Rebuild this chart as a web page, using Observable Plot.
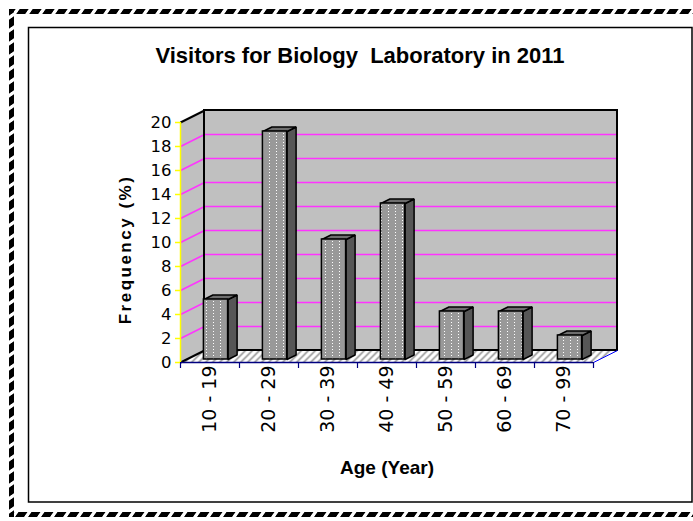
<!DOCTYPE html>
<html>
<head>
<meta charset="utf-8">
<script src="https://cdn.jsdelivr.net/npm/d3@7"></script>
<script src="https://cdn.jsdelivr.net/npm/@observablehq/plot@0.6"></script>
<style>
  body { margin: 0; background: #fff; }
  #chart svg { display: block; }
  g[aria-description="title"] text { white-space: pre; }
  g[aria-description="ytitle"] text { letter-spacing: 2.5px; }
</style>
</head>
<body>
<svg width="0" height="0" style="position:absolute">
  <defs>
    <pattern id="hatch" patternUnits="userSpaceOnUse" width="7" height="7">
      <rect width="7" height="7" fill="#ffffff"/>
      <path d="M-1,1 l2,-2 M0,7 l7,-7 M6,8 l2,-2" stroke="#8a8a8a" stroke-width="1.5"/>
    </pattern>
    <pattern id="dots" patternUnits="userSpaceOnUse" width="7" height="3">
      <rect width="7" height="3" fill="#999999"/>
      <rect x="3" y="1" width="1" height="1" fill="#ffffff"/>
    </pattern>
    <pattern id="dashH" patternUnits="userSpaceOnUse" width="13" height="20" patternTransform="skewX(-35)">
      <rect width="13" height="20" fill="#ffffff"/>
      <rect width="9" height="20" fill="#000000"/>
    </pattern>
    <pattern id="dashV" patternUnits="userSpaceOnUse" width="20" height="13" patternTransform="skewY(-35)">
      <rect width="20" height="13" fill="#ffffff"/>
      <rect width="20" height="9" fill="#000000"/>
    </pattern>
  </defs>
</svg>
<div id="chart"></div>
<script>
// ---- data ----
const categories = ["10 - 19", "20 - 29", "30 - 39", "40 - 49", "50 - 59", "60 - 69", "70 - 99"];
const frequency = [5, 19, 10, 13, 4, 4, 2];
const yTicks = [0, 2, 4, 6, 8, 10, 12, 14, 16, 18, 20];
const gridValues = [2, 4, 6, 8, 10, 12, 14, 16, 18];
const titleText = "Visitors for Biology  Laboratory in 2011";
const xTitle = "Age (Year)";
const yTitle = "Frequency (%)";

// ---- pseudo-3D geometry (in data units) ----
const n = categories.length;
const yMax = 20;
const D = {x: 24 / 59, y: 1};          // depth of the wall box
const barW = 0.41, barOff = 0.25, barDepth = 0.375;
const sx = barDepth * D.x, sy = barDepth * D.y;

const bars = categories.map((c, i) => {
  const x1 = i + 0.5 - barW / 2 + barOff * D.x;
  const y1 = barOff * D.y;
  return {i, c, x1, x2: x1 + barW, y1, y2: y1 + frequency[i]};
});
const poly = (id, pts) => pts.map(([x, y]) => ({id, x, y}));
const topFaces = bars.flatMap(b => poly(b.i, [[b.x1, b.y2], [b.x2, b.y2], [b.x2 + sx, b.y2 + sy], [b.x1 + sx, b.y2 + sy], [b.x1, b.y2]]));
const sideFaces = bars.flatMap(b => poly(b.i, [[b.x2, b.y1], [b.x2 + sx, b.y1 + sy], [b.x2 + sx, b.y2 + sy], [b.x2, b.y2], [b.x2, b.y1]]));
const leftWall = poly(0, [[0, 0], [0, yMax], [D.x, yMax + D.y], [D.x, D.y], [0, 0]]);
const floor = poly(0, [[0, 0], [n, 0], [n + D.x, D.y], [D.x, D.y], [0, 0]]);

const chart = Plot.plot({
  width: 693,
  height: 521,
  marginLeft: 180,
  marginRight: 100,
  marginTop: 122,
  marginBottom: 159,
  style: {background: "transparent", fontFamily: "Liberation Sans, Arial, sans-serif", overflow: "visible"},
  x: {type: "linear", domain: [0, n], axis: null},
  y: {type: "linear", domain: [0, yMax], axis: null},
  marks: [
    // walls and floor
    Plot.line(leftWall, {x: "x", y: "y", fill: "#c0c0c0", stroke: "none"}),
    Plot.rect([0], {x1: D.x, x2: n + D.x, y1: D.y, y2: yMax + D.y, fill: "#c0c0c0"}),
    Plot.line(floor, {x: "x", y: "y", fill: "url(#hatch)", stroke: "none"}),
    // gridlines
    Plot.ruleY(gridValues, {y: d => d + D.y, x1: D.x, x2: n + D.x, stroke: "#ff33ff", strokeWidth: 1.5}),
    Plot.link(gridValues, {x1: 0, y1: d => d, x2: D.x, y2: d => d + D.y, stroke: "#ff33ff", strokeWidth: 1.5}),
    // box edges
    Plot.rect([0], {x1: D.x, x2: n + D.x, y1: D.y, y2: yMax + D.y, fill: "none", stroke: "#000", strokeWidth: 2}),
    Plot.link([0], {x1: 0, y1: yMax, x2: D.x, y2: yMax + D.y, stroke: "#000", strokeWidth: 2}),
    Plot.link([0], {x1: 0, y1: 0, x2: D.x, y2: D.y, stroke: "#000", strokeWidth: 2}),
    Plot.link([0], {x1: n, y1: 0, x2: n + D.x, y2: D.y, stroke: "#0000ff", strokeWidth: 1}),
    // x axis (front floor edge) with ticks
    Plot.ruleY([0], {x1: 0, x2: n, stroke: "#000080", strokeWidth: 1.5}),
    Plot.ruleX(d3.range(n + 1), {x: d => d, y1: 0, y2: 0, insetBottom: -6, stroke: "#000080", strokeWidth: 1.2}),
    // y axis (yellow) with ticks
    Plot.ruleX([0], {y1: 0, y2: yMax, stroke: "#ffff00", strokeWidth: 1.5}),
    Plot.ruleY(yTicks, {y: d => d, x1: 0, x2: 0, insetLeft: -5, stroke: "#ffff00", strokeWidth: 1.5}),
    // bars
    Plot.line(sideFaces, {x: "x", y: "y", z: "id", fill: "#565656", stroke: "#000", strokeWidth: 1.5, strokeLinejoin: "miter"}),
    Plot.line(topFaces, {x: "x", y: "y", z: "id", fill: "#6e6e6e", stroke: "#000", strokeWidth: 1.5, strokeLinejoin: "miter"}),
    Plot.rect(bars, {x1: "x1", x2: "x2", y1: "y1", y2: "y2", fill: "url(#dots)", stroke: "#000", strokeWidth: 1.5}),
    // tick labels
    Plot.text(yTicks, {x: 0, y: d => d, dx: -9, text: d => String(d), textAnchor: "end", fontSize: 16.5, fontFamily: "DejaVu Sans", fill: "#000"}),
    Plot.text(categories, {x: (d, i) => i + 0.5, y: 0, dy: 3, text: d => d, rotate: -90, textAnchor: "end", lineAnchor: "middle", fontSize: 19, fontFamily: "DejaVu Sans", fill: "#000"}),
    // titles
    Plot.text([titleText], {frameAnchor: "top", dx: -27, dy: -67, text: d => d, textAnchor: "middle", lineAnchor: "middle", fontSize: 22, fontWeight: "bold", fill: "#000", ariaDescription: "title"}),
    Plot.text([xTitle], {frameAnchor: "bottom", dx: 0, dy: 105, text: d => d, textAnchor: "middle", lineAnchor: "middle", fontSize: 19, fontWeight: "bold", fill: "#000"}),
    Plot.text([yTitle], {frameAnchor: "left", dx: -55, dy: 7, text: d => d, rotate: -90, textAnchor: "middle", lineAnchor: "middle", fontSize: 17, fontWeight: "bold", fill: "#000", ariaDescription: "ytitle"})
  ]
});

// decorative chart-area borders
const svg = d3.select(chart);
const deco = svg.insert("g", ":first-child");
deco.append("rect").attr("x", 0).attr("y", 0).attr("width", 693).attr("height", 521).attr("fill", "#fff");
deco.append("rect").attr("x", 9).attr("y", 9).attr("width", 684).attr("height", 5).attr("fill", "url(#dashH)");
deco.append("rect").attr("x", 9).attr("y", 512).attr("width", 684).attr("height", 5).attr("fill", "url(#dashH)");
deco.append("rect").attr("x", 9).attr("y", 9).attr("width", 5).attr("height", 508).attr("fill", "url(#dashV)");
deco.append("rect").attr("x", 28.5).attr("y", 27.5).attr("width", 663.5).attr("height", 474.5)
  .attr("fill", "none").attr("stroke", "#000").attr("stroke-width", 1.5);

document.getElementById("chart").appendChild(chart);
</script>
</body>
</html>
